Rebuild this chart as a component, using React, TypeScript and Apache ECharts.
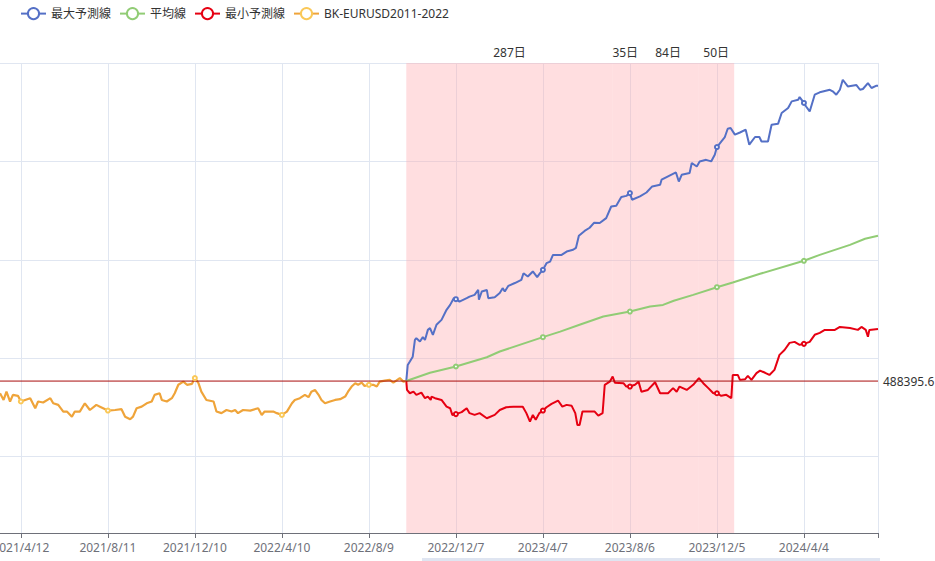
import React, { useEffect, useRef } from "react";
import * as echarts from "echarts";

// ---- categories (daily dates; the forecast starts on the last history date) ----
const HISTORY_START = "2021-03-14";
const HISTORY_END = "2022-09-29";
const FORECAST_END = "2024-07-16";

function dayList(start: string, end: string): string[] {
  const out: string[] = [];
  const d = new Date(start + "T00:00:00Z");
  const e = new Date(end + "T00:00:00Z");
  while (d.getTime() <= e.getTime()) {
    out.push(`${d.getUTCFullYear()}/${d.getUTCMonth() + 1}/${d.getUTCDate()}`);
    d.setUTCDate(d.getUTCDate() + 1);
  }
  return out;
}

const historyDates = dayList(HISTORY_START, HISTORY_END);
const forecastDates = dayList(HISTORY_END, FORECAST_END);
const categories = [...historyDates, ...forecastDates];
const forecastStart = historyDates.length; // category index of the first forecast day

// x-axis labels: every 121st category, starting with 2021/4/12
const LABEL_FIRST = 29;
const LABEL_STEP = 121;

const startBalance = 488395.6;

// periods shown as marked areas (days)
const periodNames = ["287日", "35日", "84日", "50日"];
const periodDays = [287, 35, 84, 50];

// ---- series values: [category index, value] ----
const historyData: [number, number][] = [
  [0, 482200], [5, 478800], [9, 483000], [14, 478000], [18, 481400], [25, 480900], [29, 478000],
  [35, 478800], [42, 479700], [49, 474600], [53, 478000], [60, 477500], [70, 479700], [74, 477100],
  [81, 476300], [88, 472900], [93, 472900], [100, 470300], [104, 472900], [111, 472900], [118, 477100],
  [125, 473700], [134, 476300], [139, 475400], [150, 473400], [160, 473700], [169, 474100], [174, 470300],
  [181, 469000], [185, 470300], [190, 474600], [197, 475400], [204, 477100], [211, 478000], [215, 481400],
  [222, 482200], [225, 478800], [232, 478000], [239, 479700], [243, 482200], [248, 486500], [255, 488100],
  [260, 486500], [267, 487000], [271, 489900], [276, 487300], [280, 483000], [287, 478800], [297, 478000],
  [301, 472900], [308, 472100], [315, 473700], [322, 472900], [327, 473700], [331, 472100], [338, 473700],
  [348, 473400], [359, 474600], [364, 471200], [368, 472900], [380, 472900], [385, 472100], [392, 471200],
  [399, 472900], [406, 477100], [410, 478800], [417, 479700], [424, 481400], [429, 480200], [433, 483000],
  [438, 483900], [443, 481400], [447, 478800], [452, 477100], [459, 478000], [466, 478800], [473, 479200],
  [480, 480500], [484, 483000], [489, 485600], [494, 487300], [498, 486500], [503, 487600], [507, 485900],
  [513, 486500], [519, 486500], [524, 485600], [528, 488100], [535, 488600], [542, 489000], [547, 487600],
  [551, 488600], [556, 489900], [561, 488100], [564, startBalance],
];

const maxData: [number, number][] = [
  [565, startBalance], [567, 496600], [570, 498300], [574, 500800], [577, 509300], [579, 510200],
  [584, 508500], [588, 510700], [591, 509300], [595, 514400], [598, 515300], [602, 511900], [607, 517000],
  [614, 519500], [621, 524600], [626, 527100], [631, 530500], [634, 530000], [639, 528800], [649, 530500],
  [653, 531300], [660, 532200], [665, 534700], [666, 529700], [670, 533900], [677, 534700], [679, 530500],
  [688, 531000], [695, 533100], [699, 535600], [702, 533900], [707, 536800], [716, 538200], [725, 539800],
  [728, 543200], [734, 541500], [741, 544100], [747, 541200], [751, 543200], [755, 544900], [760, 548300],
  [765, 549100], [769, 552500], [781, 552500], [788, 554200], [797, 555100], [801, 556100], [805, 562200],
  [813, 564700], [820, 566300], [826, 568800], [834, 568700], [843, 571200], [850, 577100], [857, 577500],
  [864, 581900], [871, 582500], [876, 583900], [879, 580500], [890, 582200], [899, 584200], [907, 587300],
  [918, 588100], [920, 590700], [927, 592000], [940, 594400], [944, 589800], [948, 593200], [959, 594100],
  [962, 599200], [969, 597400], [973, 600000], [982, 600800], [989, 600000], [994, 603400], [997, 607300],
  [1003, 610100], [1008, 612400], [1012, 616600], [1016, 617000], [1022, 613600], [1029, 614700],
  [1037, 616100], [1042, 608500], [1050, 612400], [1056, 612400], [1059, 610100], [1068, 610100],
  [1073, 618600], [1082, 619100], [1087, 624600], [1096, 627100], [1101, 630500], [1110, 631300],
  [1112, 632700], [1118, 629700], [1121, 627900], [1126, 625400], [1133, 633900], [1140, 635100],
  [1154, 636400], [1158, 635600], [1163, 633900], [1168, 636400], [1172, 641500], [1179, 638100],
  [1191, 638800], [1196, 636400], [1200, 636800], [1207, 639800], [1212, 637300], [1219, 638500],
  [1221, 638500],
];

const avgData: [number, number][] = [
  [565, startBalance], [598, 492600], [634, 495800], [677, 500500], [695, 503400], [755, 510700],
  [779, 513500], [806, 517000], [839, 521200], [876, 523700], [904, 526300], [922, 527100], [937, 529200],
  [964, 532200], [997, 536100], [1019, 538500], [1057, 542900], [1118, 549500], [1140, 552500],
  [1182, 557600], [1203, 560700], [1221, 562200],
];

const minData: [number, number][] = [
  [565, startBalance], [566, 483900], [570, 482200], [575, 483000], [579, 481400], [586, 482500],
  [591, 479700], [595, 480500], [599, 478800], [600, 480500], [605, 479700], [614, 478800], [621, 475400],
  [626, 474600], [629, 471200], [634, 471600], [642, 472600], [649, 474600], [653, 472100], [660, 471200],
  [667, 472100], [677, 469500], [688, 471200], [695, 473700], [704, 475100], [714, 475400], [727, 475400],
  [732, 472100], [737, 467800], [741, 471200], [745, 468700], [750, 472100], [755, 473400], [760, 475100],
  [767, 476800], [776, 478500], [782, 475400], [788, 476300], [795, 475800], [800, 472100], [803, 466100],
  [806, 466100], [810, 472900], [827, 472900], [832, 470800], [838, 472100], [841, 486500], [848, 488100],
  [852, 490700], [855, 487600], [867, 487300], [871, 485600], [876, 485600], [883, 486500], [888, 488100],
  [892, 483000], [901, 483900], [911, 487800], [918, 482200], [929, 482200], [936, 484800], [941, 483000],
  [945, 485600], [955, 483900], [964, 486500], [972, 489900], [978, 487300], [985, 484800], [992, 482200],
  [997, 482200], [1003, 480900], [1010, 481400], [1017, 479700], [1019, 491500], [1026, 491500],
  [1029, 489000], [1036, 489300], [1040, 491000], [1045, 489000], [1052, 492400], [1057, 493700],
  [1064, 492600], [1070, 491500], [1077, 494100], [1084, 501700], [1091, 504200], [1098, 507800],
  [1105, 508300], [1112, 506800], [1118, 507300], [1126, 508300], [1133, 511900], [1140, 512900],
  [1147, 514400], [1161, 514400], [1168, 515900], [1182, 515400], [1193, 514400], [1198, 515900],
  [1204, 514400], [1207, 510900], [1209, 514400], [1221, 514900],
];

const Y_MIN = 411200;
const Y_MAX = 650000;

const FONT = "'Noto Sans', 'Noto Sans CJK JP', sans-serif";
const MARK_RED = "#a80c0c";

export default function App() {
  const ref = useRef<HTMLDivElement>(null);

  useEffect(() => {
    if (!ref.current) return;
    const chart = echarts.init(ref.current, null, { renderer: "svg" });
    const last = categories.length - 1;
    const isLabel = (i: number) => i >= LABEL_FIRST && (i - LABEL_FIRST) % LABEL_STEP === 0;
    const isTick = (i: number) => isLabel(i) || i === last;

    const areas: any[] = [];
    let from = forecastStart;
    periodDays.forEach((d, k) => {
      areas.push([{ name: periodNames[k], xAxis: from }, { xAxis: from + d }]);
      from += d;
    });

    chart.setOption({
      animation: false,
      textStyle: { fontFamily: FONT },
      legend: {
        left: 15,
        top: 2,
        textStyle: { fontSize: 12, color: "#333", fontFamily: FONT },
        data: ["最大予測線", "平均線", "最小予測線", "BK-EURUSD2011-2022"],
      },
      grid: {
        left: 0,
        right: 57,
        top: 63,
        bottom: 28,
        containLabel: false,
        outerBoundsMode: "none",
      },
      xAxis: {
        type: "category",
        boundaryGap: false,
        data: categories,
        axisLabel: { interval: isLabel, color: "#6E7079", fontSize: 12, fontFamily: FONT },
        axisTick: { interval: isTick },
        splitLine: { show: true, interval: isTick, lineStyle: { color: "#E0E6F1" } },
        axisLine: { lineStyle: { color: "#6E7079" } },
      },
      yAxis: {
        type: "value",
        min: Y_MIN,
        max: Y_MAX,
        axisLabel: { show: false },
        splitLine: { lineStyle: { color: "#E0E6F1" } },
      },
      graphic: [
        {
          type: "rect",
          left: 422,
          top: 558,
          shape: { width: 458, height: 3 },
          style: { fill: "#dfe5f1" },
          silent: true,
        },
      ],
      series: [
        {
          name: "最大予測線",
          type: "line",
          data: maxData,
          color: "#5470c6",
          symbol: "emptyCircle",
          symbolSize: 4,
          lineStyle: { width: 2 },
          markArea: {
            silent: true,
            itemStyle: { color: "rgba(255, 173, 177, 0.4)" },
            label: { position: "top", color: "#333", fontSize: 12, fontFamily: FONT },
            data: areas,
          },
        },
        {
          name: "平均線",
          type: "line",
          data: avgData,
          color: "#91cc75",
          symbol: "emptyCircle",
          symbolSize: 4,
          lineStyle: { width: 2 },
        },
        {
          name: "最小予測線",
          type: "line",
          data: minData,
          color: "#e60012",
          symbol: "emptyCircle",
          symbolSize: 4,
          lineStyle: { width: 2 },
        },
        {
          name: "BK-EURUSD2011-2022",
          type: "line",
          data: historyData,
          color: "#fac858",
          symbol: "emptyCircle",
          symbolSize: 4,
          lineStyle: { width: 2.2, color: "#efa43a" },
        },
        {
          // reference line at the starting balance
          name: "start",
          type: "line",
          data: [
            [0, startBalance],
            [last, startBalance],
          ],
          silent: true,
          showSymbol: false,
          symbol: "none",
          z: 3,
          color: MARK_RED,
          lineStyle: { color: MARK_RED, width: 1 },
          endLabel: {
            show: true,
            distance: 5,
            color: "#333",
            fontSize: 12,
            fontFamily: FONT,
            formatter: () => String(startBalance),
          },
        },
      ],
    });
    return () => chart.dispose();
  }, []);

  return (
    <div
      ref={ref}
      style={{ position: "absolute", left: 0, top: 0, width: 935, height: 561 }}
    />
  );
}
